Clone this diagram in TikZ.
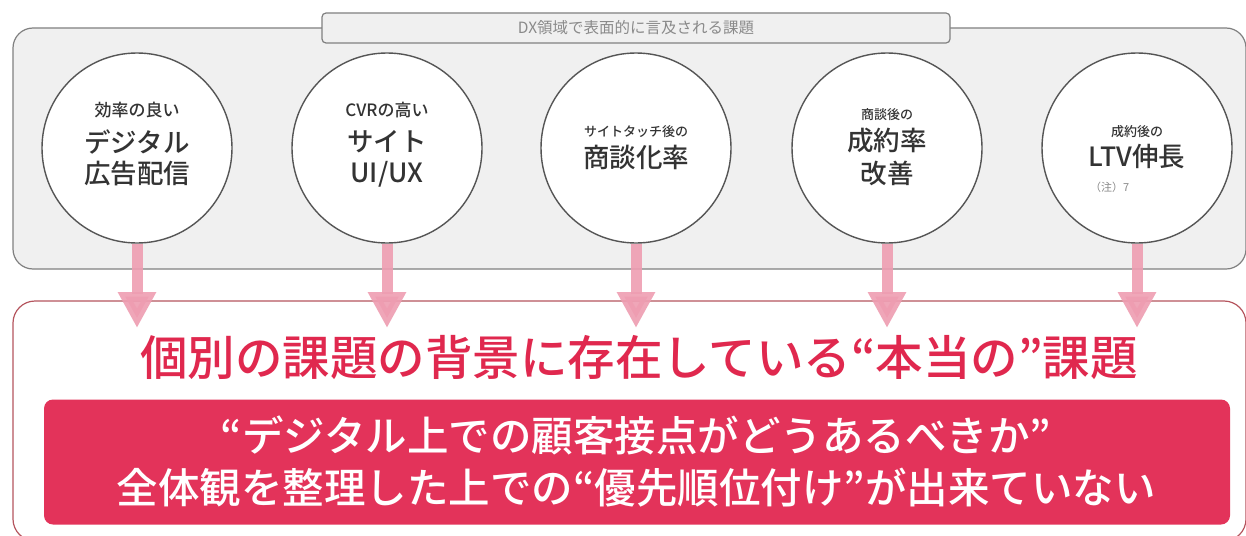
\documentclass[tikz,border=0pt]{standalone}
\usepackage{fontspec}
\setmainfont{Noto Sans CJK JP}
\newfontfamily\jpmed{Noto Sans CJK JP}[UprightFont={* Medium}]
\usetikzlibrary{arrows.meta}
\definecolor{graybg}{HTML}{F0F0F0}
\definecolor{grayline}{HTML}{808080}
\definecolor{circline}{HTML}{555555}
\definecolor{txtdark}{HTML}{333333}
\definecolor{txtgray}{HTML}{8A8A8A}
\definecolor{pinkarr}{HTML}{EE9DB1}
\definecolor{crimson}{HTML}{E0284E}
\definecolor{redbox}{HTML}{E3335A}
\definecolor{boxborder}{HTML}{B5555E}
\tikzset{
  outerbox/.style={draw=grayline, line width=1.2pt, fill=graybg, rounded corners=20pt, minimum width=1233pt, minimum height=241pt, inner sep=0pt},
  tabbox/.style={draw=grayline, line width=1.2pt, fill=graybg, rounded corners=4pt, minimum width=628pt, minimum height=30pt, inner sep=0pt, text=txtgray, font=\fontsize{15.5}{17}\selectfont},
  bottombox/.style={draw=boxborder, line width=1.2pt, fill=white, rounded corners=22pt, minimum width=1233pt, minimum height=240pt, inner sep=0pt},
  redrect/.style={fill=redbox, rounded corners=9pt, minimum width=1186pt, minimum height=125pt, inner sep=0pt},
  bubble/.style={circle, draw=circline, line width=1.4pt, fill=white, minimum size=190pt, inner sep=0pt},
  sm/.style={text=txtdark, inner sep=0pt, font=\jpmed\fontsize{17}{19}\selectfont},
  smb/.style={text=txtdark, inner sep=0pt, font=\jpmed\fontsize{13}{15}\selectfont},
  big/.style={text=txtdark, inner sep=0pt, font=\jpmed\fontsize{26.5}{30}\selectfont},
  note/.style={text=txtgray, inner sep=0pt, font=\fontsize{11}{13}\selectfont},
  arr/.style={draw=pinkarr, line width=11pt, opacity=0.9, -{Triangle[width=36pt,length=36pt]}},
  heading/.style={text=crimson, inner sep=0pt, font=\jpmed\fontsize{47.5}{52}\selectfont},
  redtxt/.style={text=white, inner sep=0pt, align=center, font=\jpmed\fontsize{41.5}{52}\selectfont}
}
\begin{document}
\begin{tikzpicture}[x=1pt,y=-1pt]
\useasboundingbox (0,0) rectangle (1246,535);
\begin{scope}
\clip (0,0) rectangle (1246,535);
% top gray area
\node[outerbox] (top) at (629.5,148.5) {};
\node[tabbox] (tab) at (636,28) {DX領域で表面的に言及される課題};
% bottom white area
\node[bottombox] (bottom) at (629.5,421) {};
% circles
\node[bubble] (c1) at (137,148) {};
\node[bubble] (c2) at (387,148) {};
\node[bubble] (c3) at (636,148) {};
\node[bubble] (c4) at (887,148) {};
\node[bubble] (c5) at (1137,148) {};
% circle texts
\node[sm]  (c1a) at (137,110) {効率の良い};
\node[big] (c1b) at (137,142) {デジタル};
\node[big] (c1c) at (137,174) {広告配信};
\node[sm]  (c2a) at (387,110) {CVRの高い};
\node[big] (c2b) at (387,142) {サイト};
\node[big] (c2c) at (387,174) {UI/UX};
\node[smb] (c3a) at (636,132) {サイトタッチ後の};
\node[big] (c3b) at (636,157) {商談化率};
\node[smb] (c4a) at (887,115) {商談後の};
\node[big] (c4b) at (887,141) {成約率};
\node[big] (c4c) at (887,173) {改善};
\node[smb] (c5a) at (1137,132) {成約後の};
\node[big] (c5b) at (1137,157) {LTV伸長};
\node[note, anchor=west] (c5n) at (1090,187) {（注）7};
% arrows
\coordinate (t1) at (137,328);
\coordinate (t2) at (387,328);
\coordinate (t3) at (636,328);
\coordinate (t4) at (887,328);
\coordinate (t5) at (1137,328);
\draw[arr] (c1.south) -- (t1);
\draw[arr] (c2.south) -- (t2);
\draw[arr] (c3.south) -- (t3);
\draw[arr] (c4.south) -- (t4);
\draw[arr] (c5.south) -- (t5);
% heading
\node[heading] (head) at (639,358) {個別の課題の背景に存在している“本当の”課題};
% red box
\node[redrect] (red) at (637,462) {};
\node[redtxt] (redt) at (636,461) {“デジタル上での顧客接点がどうあるべきか”\\全体観を整理した上での“優先順位付け”が出来ていない};
\end{scope}
\end{tikzpicture}
\end{document}
